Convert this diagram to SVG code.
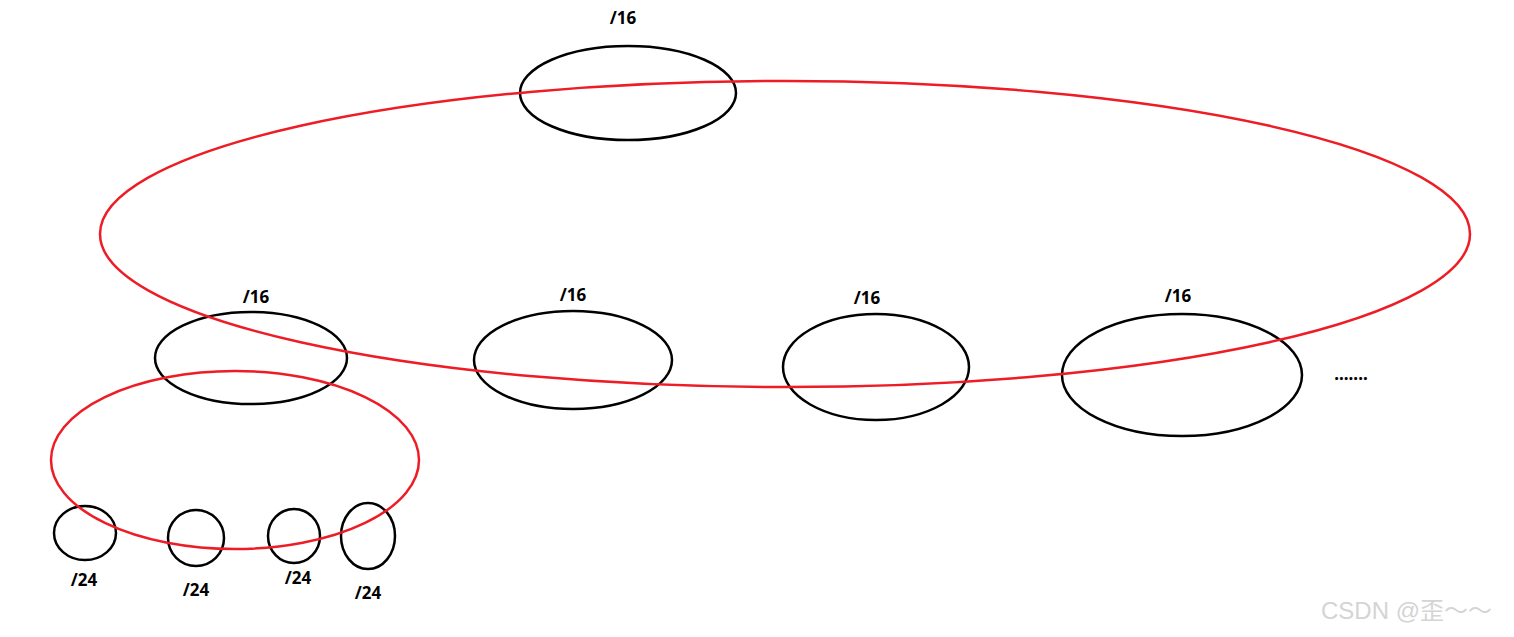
<svg xmlns="http://www.w3.org/2000/svg" width="1514" height="637" viewBox="0 0 1514 637">
<style>
.n{fill:none;stroke:#000;stroke-width:2.5}
.r{fill:none;stroke:#ee1c25;stroke-width:2.5}
.t{font-family:"Noto Sans","Liberation Sans",sans-serif;font-weight:bold;font-size:17px;fill:#000;text-anchor:middle}
.w{font-family:"Liberation Sans","Noto Sans CJK SC",sans-serif;font-size:24px;fill:#d4d4d4}
</style>
<rect width="1514" height="637" fill="#fff"/>
<g id="n16a"><ellipse class="n" cx="628" cy="93" rx="108" ry="47"/><text class="t" x="623" y="24">/16</text></g>
<g id="n16b"><ellipse class="n" cx="251" cy="358" rx="96" ry="46"/><text class="t" x="256" y="303">/16</text></g>
<g id="n16c"><ellipse class="n" cx="573" cy="360" rx="99" ry="49"/><text class="t" x="573" y="301">/16</text></g>
<g id="n16d"><ellipse class="n" cx="876" cy="367" rx="93" ry="53"/><text class="t" x="867" y="304">/16</text></g>
<g id="n16e"><ellipse class="n" cx="1182" cy="375" rx="120" ry="61"/><text class="t" x="1178" y="302">/16</text></g>
<g id="more"><text class="t" x="1351" y="380">.......</text></g>
<g id="n24a"><ellipse class="n" cx="85" cy="533" rx="31" ry="27"/><text class="t" x="84" y="586">/24</text></g>
<g id="n24b"><ellipse class="n" cx="196" cy="538" rx="28" ry="28"/><text class="t" x="196" y="596">/24</text></g>
<g id="n24c"><ellipse class="n" cx="294" cy="536" rx="26" ry="27"/><text class="t" x="298" y="584">/24</text></g>
<g id="n24d"><ellipse class="n" cx="368" cy="536" rx="27" ry="33"/><text class="t" x="368" y="599">/24</text></g>
<g id="groups">
<ellipse class="r" cx="785" cy="234" rx="685" ry="153"/>
<ellipse class="r" cx="235" cy="460" rx="184" ry="89"/>
</g>
<text class="w" x="1321" y="619">CSDN @歪～～</text>
</svg>
